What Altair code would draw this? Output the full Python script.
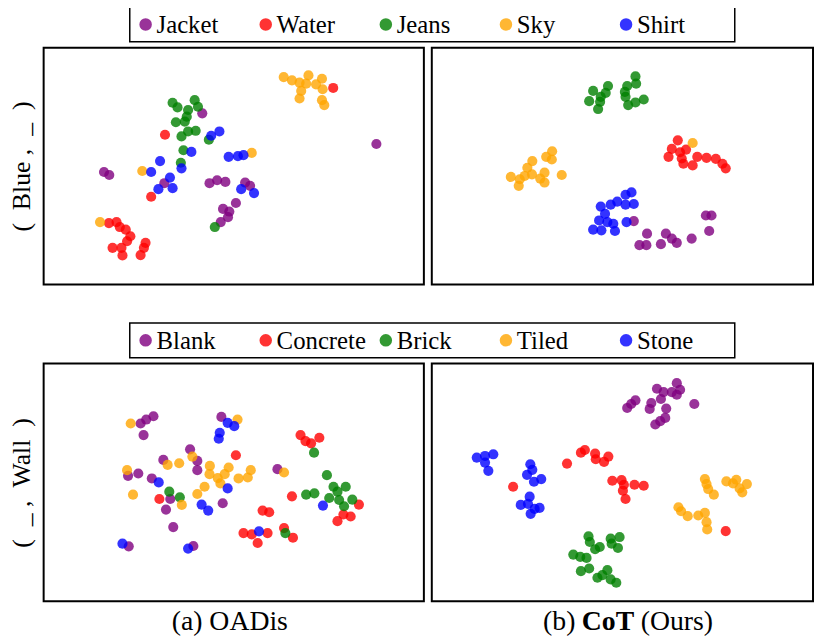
import altair as alt
import pandas as pd

FONT = "Liberation Serif"
COLORS = ["#800080", "#ff0000", "#008000", "#ffa500", "#0000ff"]
CATS_TOP = ["Jacket", "Water", "Jeans", "Sky", "Shirt"]
CATS_BOTTOM = ["Blank", "Concrete", "Brick", "Tiled", "Stone"]
ROW_LABELS = ["(\u2002Blue ,\u2002_\u2002)", "(\u2002_ ,\u2002Wall\u2002)"]
COL_A = ["(a) OADis"]
COL_B = ["(b)", "CoT", "(Ours)"]

# ---- (a) OADis, ( Blue , _ ) ----
A1_JACKET = [(490, 220), (1018, 313), (192, 398), (208, 407), (375, 432), (512, 432), (535, 423),
             (560, 428), (620, 430), (635, 440), (592, 492), (553, 510), (572, 518), (568, 535), (546, 550)]
A1_WATER = [(887, 143), (377, 285), (335, 473), (207, 553), (230, 550), (240, 565), (258, 573), (272, 593),
            (262, 608), (245, 628), (218, 628), (248, 651), (318, 613), (313, 628), (303, 650)]
A1_JEANS = [(400, 188), (415, 202), (467, 180), (477, 200), (447, 210), (443, 230), (437, 245), (410, 247),
            (447, 275), (470, 273), (427, 290), (510, 300), (433, 332), (425, 370), (528, 565)]
A1_SKY = [(737, 110), (762, 120), (785, 127), (812, 105), (805, 130), (835, 132), (853, 115), (855, 147),
          (790, 152), (785, 175), (853, 180), (860, 195), (180, 550), (308, 395), (640, 340)]
A1_SHIRT = [(517, 288), (542, 275), (457, 337), (570, 352), (598, 350), (615, 347), (362, 365), (335, 398),
            (427, 387), (392, 415), (400, 447), (357, 450), (608, 450), (647, 462)]

# ---- (b) CoT, ( Blue , _ ) ----
B1_JACKET = [(620, 547), (838, 530), (855, 530), (848, 577), (660, 585), (717, 585), (735, 600), (750, 613),
             (795, 600), (637, 620), (658, 620), (702, 617)]
B1_WATER = [(753, 302), (735, 328), (725, 352), (760, 338), (778, 330), (765, 357), (770, 373), (798, 378),
            (812, 352), (840, 355), (868, 358), (888, 373), (898, 387)]
B1_JEANS = [(497, 152), (542, 137), (535, 158), (520, 170), (485, 183), (518, 185), (512, 207), (625, 108),
            (627, 130), (600, 137), (593, 155), (595, 170), (603, 195), (625, 187), (650, 178)]
B1_SKY = [(798, 310), (373, 335), (355, 352), (372, 360), (313, 365), (298, 385), (312, 405), (290, 410),
          (248, 413), (275, 420), (272, 440), (337, 418), (350, 400), (350, 430), (402, 407)]
B1_SHIRT = [(613, 460), (595, 467), (570, 488), (550, 497), (520, 503), (595, 497), (620, 495), (533, 525),
            (515, 545), (540, 550), (558, 555), (497, 573), (522, 575), (563, 577), (598, 550)]

# ---- (a) OADis, ( _ , Wall ) ----
A2_BLANK = [(303, 202), (320, 190), (342, 180), (312, 237), (548, 182), (453, 280), (372, 312), (475, 315),
            (475, 343), (296, 353), (265, 360), (337, 368), (393, 430), (380, 462), (552, 443), (718, 340),
            (402, 515), (267, 573), (463, 572)]
A2_CONCRETE = [(592, 298), (788, 237), (803, 255), (820, 262), (845, 245), (360, 430), (762, 422), (673, 465),
               (693, 470), (615, 533), (640, 537), (688, 533), (658, 563), (738, 518), (765, 547), (900, 497),
               (918, 477), (940, 483), (965, 447)]
A2_BRICK = [(829, 290), (868, 358), (888, 393), (925, 393), (900, 408), (805, 417), (830, 413), (875, 427),
            (905, 433), (945, 432), (920, 452), (390, 408), (422, 425), (742, 533)]
A2_TILED = [(273, 202), (597, 190), (460, 302), (385, 327), (420, 322), (513, 330), (570, 335), (637, 343),
            (512, 355), (537, 367), (558, 355), (545, 383), (600, 368), (628, 365), (262, 343), (738, 350),
            (280, 417), (497, 393), (475, 415), (428, 448)]
A2_STONE = [(567, 200), (587, 210), (543, 230), (540, 248), (358, 380), (567, 398), (488, 447), (508, 465),
            (662, 528), (856, 450), (248, 565), (447, 580)]

# ---- (b) CoT, ( _ , Wall ) ----
B2_BLANK = [(750, 80), (690, 97), (710, 107), (735, 107), (760, 100), (750, 115), (702, 128), (673, 140),
            (668, 158), (718, 157), (625, 132), (612, 143), (600, 155), (715, 185), (700, 195), (685, 205),
            (803, 143)]
B2_CONCRETE = [(460, 290), (472, 282), (503, 293), (505, 310), (530, 318), (543, 302), (418, 323), (255, 393),
               (555, 375), (583, 373), (590, 387), (587, 405), (595, 430), (622, 387), (650, 390), (898, 527)]
B2_BRICK = [(483, 543), (487, 560), (503, 582), (517, 575), (550, 550), (577, 545), (572, 578), (553, 565),
            (437, 598), (458, 605), (477, 608), (460, 648), (485, 640), (510, 668), (525, 660), (540, 645),
            (550, 673), (567, 683)]
B2_TILED = [(835, 370), (840, 385), (845, 400), (862, 417), (900, 377), (920, 383), (930, 372), (940, 398),
            (962, 385), (948, 410), (755, 455), (763, 467), (783, 482), (815, 480), (835, 472), (840, 500),
            (842, 522)]
B2_STONE = [(145, 305), (170, 300), (195, 295), (170, 320), (180, 345), (307, 325), (313, 342), (297, 357),
            (318, 378), (340, 370), (305, 423), (278, 448), (300, 445), (320, 460), (335, 457), (308, 475)]

XDOM = [9, 1162]
YDOM = [21, 739]


def panel_df(groups, cats):
    rows = []
    for cat, color, pts in zip(cats, COLORS, groups):
        for x, y in pts:
            rows.append({"x": x, "y": y, "cat": cat, "color": color})
    return pd.DataFrame(rows)


def text_piece(s, x, y, align="center", weight="normal"):
    return alt.Chart(alt.Data(values=[{"t": s}])).mark_text(
        align=align, baseline="alphabetic", font=FONT, fontSize=28, fontWeight=weight, color="black"
    ).encode(x=alt.value(x), y=alt.value(y), text="t:N")


def panel(df, w, h, row_label=None, extra=()):
    if row_label:
        yaxis = alt.Axis(title=row_label, labels=False, ticks=False, domain=False, grid=False,
                         titleFont=FONT, titleFontSize=26, titleFontWeight="normal",
                         titleColor="black", titlePadding=9)
    else:
        yaxis = None
    pts = alt.Chart(df).mark_circle(size=105, opacity=0.8).encode(
        x=alt.X("x:Q", scale=alt.Scale(domain=XDOM, nice=False, zero=False), axis=None),
        y=alt.Y("y:Q", scale=alt.Scale(domain=YDOM, nice=False, zero=False, reverse=True), axis=yaxis),
        color=alt.Color("color:N", scale=None),
    )
    return alt.layer(pts, *extra).properties(width=w, height=h)


def legend(cats):
    ldf = pd.DataFrame({"cat": cats, "i": list(range(len(cats))), "color": COLORS})
    xs = alt.Scale(domain=[-0.849, 5.54], nice=False, zero=False)
    box = alt.Chart(alt.Data(values=[{"a": -0.132, "b": 4.905}])).mark_rect(
        filled=False, color="black", strokeWidth=1.5
    ).encode(x=alt.X("a:Q", scale=xs, axis=None), x2="b:Q", y=alt.value(0), y2=alt.value(35))
    dots = alt.Chart(ldf).mark_circle(size=160, opacity=0.8).encode(
        x=alt.X("i:Q", scale=xs, axis=None), y=alt.value(17.5), color=alt.Color("color:N", scale=None)
    )
    labels = alt.Chart(ldf).mark_text(
        align="left", baseline="middle", dx=11, font=FONT, fontSize=25, color="black"
    ).encode(x=alt.X("i:Q", scale=xs, axis=None), y=alt.value(18), text="cat:N")
    return alt.layer(box, dots, labels).properties(
        width=775, height=35, view=alt.ViewBackground(stroke=None)
    )


tl = panel(panel_df([A1_JACKET, A1_WATER, A1_JEANS, A1_SKY, A1_SHIRT], CATS_TOP), 384, 239, ROW_LABELS[0])
tr = panel(panel_df([B1_JACKET, B1_WATER, B1_JEANS, B1_SKY, B1_SHIRT], CATS_TOP), 385, 239)

bl = panel(panel_df([A2_BLANK, A2_CONCRETE, A2_BRICK, A2_TILED, A2_STONE], CATS_BOTTOM), 384, 240,
           ROW_LABELS[1], extra=[text_piece(COL_A[0], 188, 269)])
br = panel(panel_df([B2_BLANK, B2_CONCRETE, B2_BRICK, B2_TILED, B2_STONE], CATS_BOTTOM), 385, 240,
           extra=[text_piece(COL_B[0], 145, 269, align="right"),
                  text_piece(COL_B[1], 178, 269, weight="bold"),
                  text_piece(COL_B[2], 211, 269, align="left")])

row1 = alt.hconcat(tl, tr, spacing=6)
row2 = alt.hconcat(bl, br, spacing=6)

top = alt.vconcat(legend(CATS_TOP), row1, spacing=4)
bottom = alt.vconcat(legend(CATS_BOTTOM), row2, spacing=4)

chart = alt.vconcat(top, bottom, spacing=37).properties(
    padding={"left": 0, "top": -5, "right": 0, "bottom": 0}
).configure_view(stroke="black", strokeWidth=2)

chart.save("out.html", embed_options={"renderer": "svg", "actions": False})
